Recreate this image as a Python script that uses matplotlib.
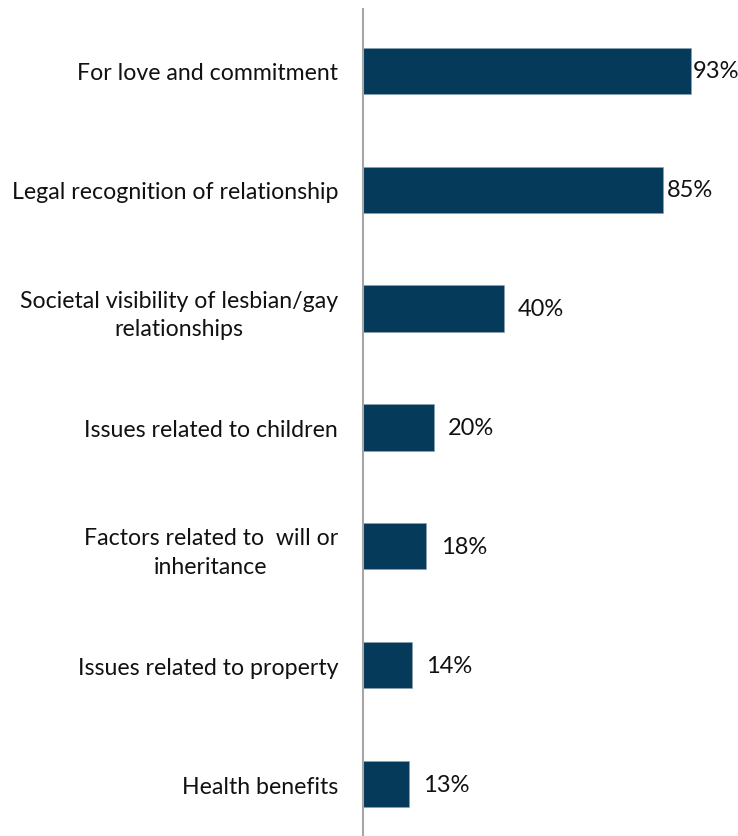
import matplotlib.pyplot as plt

# Dati
categorie = ['For love and commitment',
             'Legal recognition of relationship',
             'Societal visibility of lesbian/gay\nrelationships',
             'Issues related to children',
             'Factors related to  will or\ninheritance',
             'Issues related to property',
             'Health benefits']
valori = [93, 85, 40, 20, 18, 14, 13]
etichette = ['93%', '85%', '40%', '20%', '18%', '14%', '13%']

plt.rcParams['font.family'] = ['Lato', 'DejaVu Sans']

fig = plt.figure(figsize=(7.38, 8.37), dpi=100)
ax = fig.add_axes([363 / 738, 0, 1 - 363 / 738, 827 / 837])

pos = list(range(len(categorie)))
ax.barh(pos, valori, height=0.39, color='#053a5a', edgecolor='#8aa0b0', linewidth=0.4)

ax.set_ylim(len(categorie) - 1 + 0.437, -0.52)
ax.set_xlim(0, 106.3)

# Etichette dei valori (le prime due sono vicine al margine destro)
spazio = [0.5, 1.1, 4, 4, 4, 4, 4]
for p, v, t, s in zip(pos, valori, etichette, spazio):
    ax.text(v + s, p, t, va='center', ha='left', fontsize=17, color='#111111')

ax.set_yticks(pos)
ax.set_yticklabels(categorie, fontsize=16.7, color='#111111', multialignment='center',
                   linespacing=1.45)
ax.tick_params(axis='y', length=0, pad=18)
ax.set_xticks([])

for lato in ['top', 'right', 'bottom']:
    ax.spines[lato].set_visible(False)
ax.spines['left'].set_color('#a6a6a6')
ax.spines['left'].set_linewidth(1.5)

fig.savefig('out.png', dpi=100)
